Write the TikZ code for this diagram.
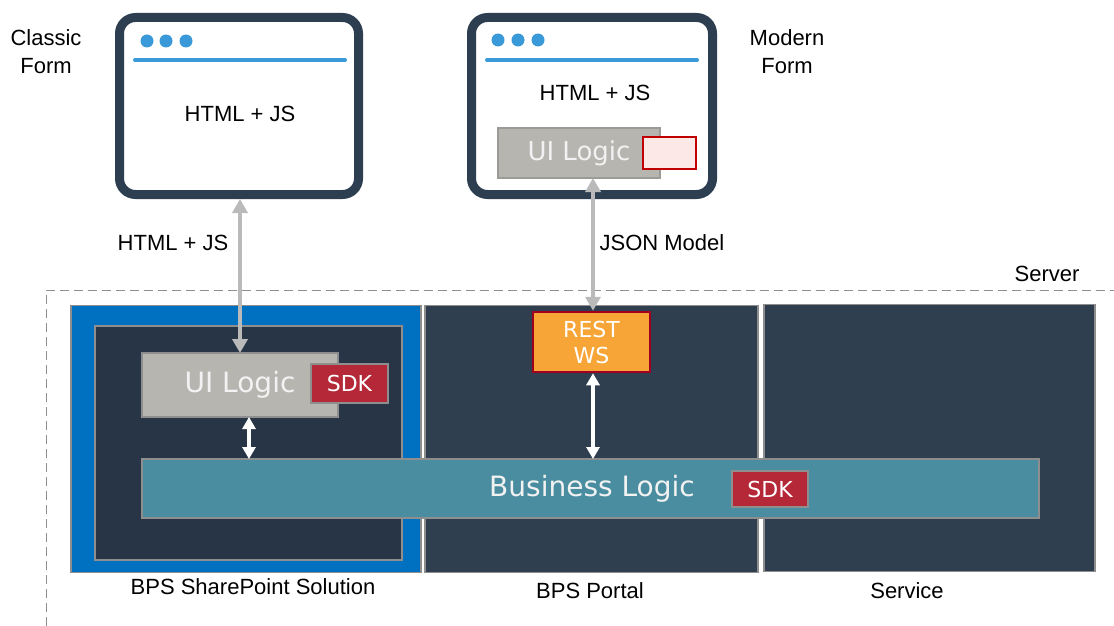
\documentclass[tikz,border=0pt]{standalone}
\usepackage{fontspec}
\setmainfont{Liberation Sans}
\newfontfamily\vf{DejaVu Sans}
\usetikzlibrary{arrows.meta}
\definecolor{navy}{HTML}{2C3E50}
\definecolor{dotblue}{HTML}{3A99D8}
\definecolor{spblue}{HTML}{0070C0}
\definecolor{innerdark}{HTML}{283546}
\definecolor{paneldark}{HTML}{2F3F50}
\definecolor{edgegray}{HTML}{8E8E8E}
\definecolor{uigray}{HTML}{B7B5B0}
\definecolor{blteal}{HTML}{4A8DA0}
\definecolor{sdkred}{HTML}{B42838}
\definecolor{restorange}{HTML}{F7A537}
\definecolor{restedge}{HTML}{A00020}
\definecolor{pinkfill}{HTML}{FDE8E8}
\definecolor{pinkedge}{HTML}{C00000}
\definecolor{arrowgray}{HTML}{BABABA}
\definecolor{lighttext}{HTML}{F2F2F2}
\tikzset{
  box/.style={draw=edgegray, line width=1.8pt, inner sep=0pt, outer sep=0pt},
  window/.style={draw=navy, fill=white, line width=9pt, rounded corners=16pt, inner sep=0pt},
  dot/.style={circle, fill=dotblue, minimum size=13pt, inner sep=0pt},
  lbl/.style={font=\fontsize{22}{28}\selectfont, text=black, inner sep=0pt, align=center},
  sdk/.style={box, fill=sdkred, text=white, font=\vf\fontsize{22}{26}\selectfont},
  grayarrow/.style={draw=arrowgray, line width=4.5pt, {Triangle[length=14pt,width=15pt]}-{Triangle[length=14pt,width=15pt]}},
  whitearrow/.style={draw=white, line width=3.5pt, {Triangle[length=12pt,width=13pt]}-{Triangle[length=12pt,width=13pt]}},
}
\begin{document}
\begin{tikzpicture}[x=1pt,y=-1pt]
\useasboundingbox (0,0) rectangle (1114,626);
\fill[white] (0,0) rectangle (1114,626);

% server dashed region
\coordinate (srvA) at (46,626);
\coordinate (srvB) at (46,290);
\coordinate (srvC) at (1114,290);
\draw[edgegray, line width=1pt, dash pattern=on 9pt off 5pt] (srvA) -- (srvB) -- (srvC);
\node[lbl] (srvlbl) at (1047,274) {Server};

% browser windows
\node[window, minimum width=239pt, minimum height=177pt] (cw) at (239,106) {};
\node[dot] (cd1) at (147,41) {};
\node[dot] (cd2) at (166,41) {};
\node[dot] (cd3) at (186,41) {};
\coordinate (cl1) at (135,60);
\coordinate (cl2) at (345,60);
\draw[dotblue, line width=4pt, line cap=round] (cl1) -- (cl2);
\node[lbl] (chtml) at (240,114) {HTML + JS};

\node[window, minimum width=241pt, minimum height=177pt] (mw) at (592,106) {};
\node[dot] (md1) at (498,40) {};
\node[dot] (md2) at (518,40) {};
\node[dot] (md3) at (538,40) {};
\coordinate (ml1) at (487,60);
\coordinate (ml2) at (697,60);
\draw[dotblue, line width=4pt, line cap=round] (ml1) -- (ml2);
\node[lbl] (mhtml) at (595,93) {HTML + JS};
\node[box, draw=uigray!85!black, fill=uigray, minimum width=162pt, minimum height=50pt, text=lighttext, font=\vf\fontsize{26}{30}\selectfont] (mu) at (579,153) {UI Logic};
\node[draw=pinkedge, fill=pinkfill, line width=2.2pt, minimum width=53pt, minimum height=32pt, inner sep=0pt] (mr) at (669.5,153) {};

\node[lbl] (classic) at (46,52) {Classic\\Form};
\node[lbl] (modern) at (787,52) {Modern\\Form};

% server panels
\node[box, fill=spblue, minimum width=350pt, minimum height=267pt] (sp) at (246,439) {};
\node[box, fill=innerdark, minimum width=307pt, minimum height=234pt] (inr) at (248.5,443) {};
\node[box, fill=paneldark, minimum width=333pt, minimum height=267pt] (pt) at (591.5,439) {};
\node[box, fill=paneldark, minimum width=331pt, minimum height=267pt] (sv) at (929.5,438) {};

\node[box, fill=uigray, minimum width=196pt, minimum height=64pt, text=lighttext, font=\vf\fontsize{28}{32}\selectfont] (cu) at (240,385) {UI Logic};
\node[sdk, minimum width=77pt, minimum height=39pt] (cs) at (349.5,383.5) {SDK};

\node[box, fill=blteal, minimum width=897pt, minimum height=59pt] (bl) at (590.5,488.5) {};
\node[text=lighttext, font=\vf\fontsize{28}{32}\selectfont, inner sep=0pt] (bltext) at (592,489) {Business Logic};
\node[sdk, minimum width=76pt, minimum height=36pt] (bs) at (770,489) {SDK};

\node[draw=restedge, fill=restorange, line width=2.5pt, minimum width=117pt, minimum height=60pt, inner sep=0pt, text=white, align=center, font=\vf\fontsize{22}{26}\selectfont] (rw) at (591.5,342) {REST\\WS};

% connectors
\draw[grayarrow] (cu.north) -- (cu.north |- cw.south);
\draw[grayarrow] ([xshift=1.5pt]rw.north) -- ([xshift=1.5pt]rw.north |- mu.south);
\draw[whitearrow] ([xshift=9pt]cu.south) -- ([xshift=9pt]cu.south |- bl.north);
\draw[whitearrow] ([xshift=1.5pt]rw.south) -- ([xshift=1.5pt]rw.south |- bl.north);

\node[lbl] (l1) at (173,243) {HTML + JS};
\node[lbl] (l2) at (662,243) {JSON Model};

\node[lbl] (b1) at (253,587) {BPS SharePoint Solution};
\node[lbl] (b2) at (590,591) {BPS Portal};
\node[lbl] (b3) at (907,591) {Service};
\end{tikzpicture}
\end{document}
